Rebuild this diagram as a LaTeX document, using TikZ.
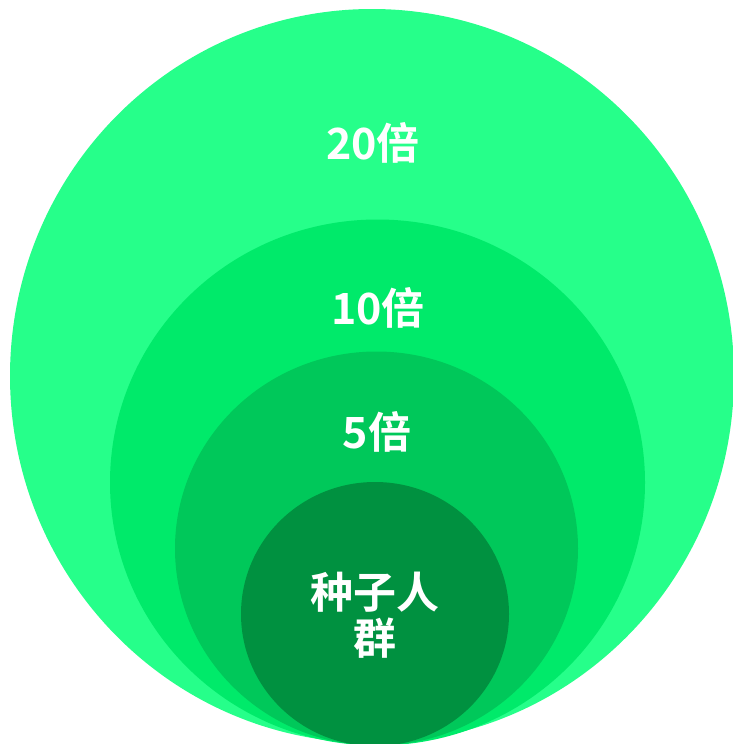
\documentclass[tikz,border=0pt]{standalone}
\usepackage{fontspec}
\newfontfamily\cjk{Noto Sans CJK SC}[BoldFont={Noto Sans CJK SC Bold}]
\definecolor{ring1}{RGB}{38,255,138}
\definecolor{ring2}{RGB}{0,234,106}
\definecolor{ring3}{RGB}{0,200,90}
\definecolor{ring4}{RGB}{0,145,64}
\tikzset{
  lbl/.style={text=white, font=\cjk\bfseries\fontsize{43pt}{46pt}\selectfont, inner sep=0pt, align=center}
}
\begin{document}
\begin{tikzpicture}[x=1pt,y=-1pt]
\useasboundingbox (0,0) rectangle (733,744);
\fill[ring1] (372,376) ellipse [x radius=362pt, y radius=367pt];
\fill[ring2] (377.5,482.5) ellipse [x radius=267.5pt, y radius=263pt];
\fill[ring3] (376.5,548.5) ellipse [x radius=201.5pt, y radius=197pt];
\fill[ring4] (375,614) ellipse [x radius=134pt, y radius=132pt];
\node[lbl] (t20) at (373,143) {20倍};
\node[lbl] (t10) at (378,308) {10倍};
\node[lbl] (t5) at (377,432) {5倍};
\node[lbl] (seed) at (375,615) {种子人\\群};
\end{tikzpicture}
\end{document}
